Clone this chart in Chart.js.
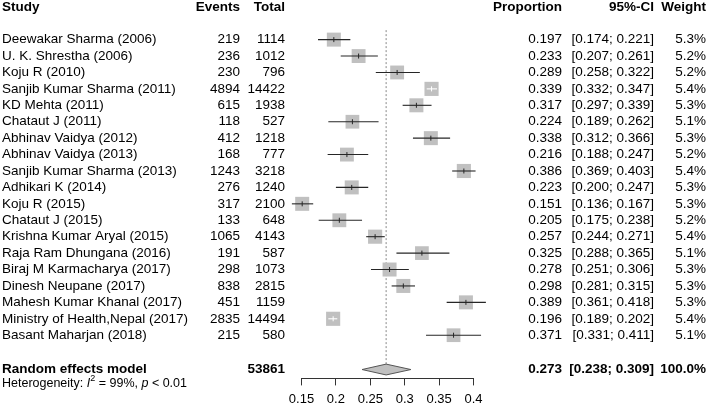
<!DOCTYPE html>
<html>
<head>
<meta charset="utf-8">
<script src="https://cdn.jsdelivr.net/npm/chart.js@4.4.1/dist/chart.umd.min.js"></script>
<style>
  html, body { margin: 0; padding: 0; background: #fff; }
  #wrap { width: 709px; height: 406px; }
</style>
</head>
<body>
<div id="wrap"><canvas id="forest" width="709" height="406"></canvas></div>
<script>
// study table
var studies = ["Deewakar Sharma (2006)", "U. K. Shrestha (2006)", "Koju R (2010)", "Sanjib Kumar Sharma (2011)",
  "KD Mehta (2011)", "Chataut J (2011)", "Abhinav Vaidya (2012)", "Abhinav Vaidya (2013)",
  "Sanjib Kumar Sharma (2013)", "Adhikari K (2014)", "Koju R (2015)", "Chataut J (2015)",
  "Krishna Kumar Aryal (2015)", "Raja Ram Dhungana (2016)", "Biraj M Karmacharya (2017)",
  "Dinesh Neupane (2017)", "Mahesh Kumar Khanal (2017)", "Ministry of Health,Nepal (2017)", "Basant Maharjan (2018)"];
var events = [219, 236, 230, 4894, 615, 118, 412, 168, 1243, 276, 317, 133, 1065, 191, 298, 838, 451, 2835, 215];
var totals = [1114, 1012, 796, 14422, 1938, 527, 1218, 777, 3218, 1240, 2100, 648, 4143, 587, 1073, 2815, 1159, 14494, 580];
var proportion = [0.197, 0.233, 0.289, 0.339, 0.317, 0.224, 0.338, 0.216, 0.386, 0.223, 0.151, 0.205, 0.257, 0.325, 0.278, 0.298, 0.389, 0.196, 0.371];
var ciLower = [0.174, 0.207, 0.258, 0.332, 0.297, 0.189, 0.312, 0.188, 0.369, 0.200, 0.136, 0.175, 0.244, 0.288, 0.251, 0.281, 0.361, 0.189, 0.331];
var ciUpper = [0.221, 0.261, 0.322, 0.347, 0.339, 0.262, 0.366, 0.247, 0.403, 0.247, 0.167, 0.238, 0.271, 0.365, 0.306, 0.315, 0.418, 0.202, 0.411];
var weights = [5.3, 5.2, 5.2, 5.4, 5.3, 5.1, 5.3, 5.2, 5.4, 5.3, 5.3, 5.2, 5.4, 5.1, 5.3, 5.3, 5.3, 5.4, 5.1];

// random effects summary
var pooledLabel = "Random effects model";
var pooledTotal = 53861;
var pooledEst = 0.273;
var pooledLower = 0.238;
var pooledUpper = 0.309;
var pooledWeight = 100.0;
var heterogeneityI2 = "99%";
var heterogeneityP = "< 0.01";

var xTicks = [0.15, 0.2, 0.25, 0.3, 0.35, 0.4];
var xTickLabels = ["0.15", "0.2", "0.25", "0.3", "0.35", "0.4"];

// row positions on the y scale (row units, 0 = first study)
var headerRow = -1.95;
var pooledRow = 20.09;
var hetRow = 20.95;

var FONT = '"Liberation Sans", Arial, Helvetica, sans-serif';
var SQUARE = '#c0c0c0';
var LINE = '#262626';
var baseSide = 14;   // px side of a 5.3% square

function sideFor(w) { return baseSide * Math.sqrt(w / 5.3); }

// CI drawn white when the whole interval sits inside its square
function ciColorAt(chart, i) {
  var xs = chart.scales.x;
  var w = xs.getPixelForValue(ciUpper[i]) - xs.getPixelForValue(ciLower[i]);
  return w < sideFor(weights[i]) ? '#ffffff' : LINE;
}

var datasets = [];

// estimate tick marks (on top)
datasets.push({
  type: 'scatter',
  order: 0,
  clip: false,
  data: proportion.map(function (p, i) { return { x: p, y: i }; }),
  pointStyle: 'line',
  rotation: 90,
  radius: 2.5,
  pointBorderWidth: 1,
  pointBorderColor: function (ctx) { return ciColorAt(ctx.chart, ctx.dataIndex); }
});

// confidence intervals
studies.forEach(function (s, i) {
  datasets.push({
    type: 'line',
    order: 1,
    clip: false,
    data: [{ x: ciLower[i], y: i }, { x: ciUpper[i], y: i }],
    borderColor: function (ctx) { return ciColorAt(ctx.chart, i); },
    borderWidth: 1.1,
    pointRadius: 0,
    fill: false
  });
});

// weight squares
datasets.push({
  type: 'scatter',
  order: 2,
  clip: false,
  data: proportion.map(function (p, i) { return { x: p, y: i }; }),
  pointStyle: 'rect',
  backgroundColor: SQUARE,
  borderWidth: 0,
  pointRadius: weights.map(function (w) { return sideFor(w) / (2 * Math.SQRT1_2); })
});

// pooled diamond
datasets.push({
  type: 'line',
  order: 2,
  clip: false,
  data: [
    { x: pooledLower, y: pooledRow },
    { x: pooledEst, y: pooledRow - 0.33 },
    { x: pooledUpper, y: pooledRow },
    { x: pooledEst, y: pooledRow + 0.33 },
    { x: pooledLower, y: pooledRow }
  ],
  borderColor: '#555555',
  borderWidth: 1,
  backgroundColor: SQUARE,
  fill: 'shape',
  pointRadius: 0,
  tension: 0
});

// dotted line at pooled estimate
datasets.push({
  type: 'line',
  order: 3,
  data: [{ x: pooledEst, y: -0.58 }, { x: pooledEst, y: pooledRow - 0.33 }],
  borderColor: '#8a8a8a',
  borderWidth: 1,
  borderDash: [2, 2],
  pointRadius: 0,
  fill: false
});

// table text around the plot
var tableText = {
  id: 'tableText',
  afterDraw: function (chart) {
    var ctx = chart.ctx;
    var ys = chart.scales.y;
    var reg = '13.5px ' + FONT;
    var bold = 'bold 13.5px ' + FONT;
    ctx.save();
    ctx.fillStyle = '#000';
    ctx.textBaseline = 'middle';

    function put(txt, x, r, align, font) {
      ctx.font = font;
      ctx.textAlign = align;
      ctx.fillText(txt, x, ys.getPixelForValue(r));
    }

    // headers
    put('Study', 2, headerRow, 'left', bold);
    put('Events', 240, headerRow, 'right', bold);
    put('Total', 285, headerRow, 'right', bold);
    put('Proportion', 562, headerRow, 'right', bold);
    put('95%-CI', 654, headerRow, 'right', bold);
    put('Weight', 706, headerRow, 'right', bold);

    studies.forEach(function (s, i) {
      put(s, 2, i, 'left', reg);
      put(String(events[i]), 240, i, 'right', reg);
      put(String(totals[i]), 285, i, 'right', reg);
      put(proportion[i].toFixed(3), 562, i, 'right', reg);
      put('[' + ciLower[i].toFixed(3) + '; ' + ciUpper[i].toFixed(3) + ']', 654, i, 'right', reg);
      put(weights[i].toFixed(1) + '%', 706, i, 'right', reg);
    });

    put(pooledLabel, 2, pooledRow, 'left', bold);
    put(String(pooledTotal), 285, pooledRow, 'right', bold);
    put(pooledEst.toFixed(3), 562, pooledRow, 'right', bold);
    put('[' + pooledLower.toFixed(3) + '; ' + pooledUpper.toFixed(3) + ']', 654, pooledRow, 'right', bold);
    put(pooledWeight.toFixed(1) + '%', 706, pooledRow, 'right', bold);

    // heterogeneity line with italic I, superscript 2 and italic p
    var y = ys.getPixelForValue(hetRow);
    var x = 2;
    var parts = [
      ['Heterogeneity: ', '12.5px ' + FONT, 0],
      ['I', 'italic 12.5px ' + FONT, 0],
      ['2', '9px ' + FONT, -5],
      [' = ' + heterogeneityI2 + ', ', '12.5px ' + FONT, 0],
      ['p', 'italic 12.5px ' + FONT, 0],
      [' ' + heterogeneityP, '12.5px ' + FONT, 0]
    ];
    ctx.textAlign = 'left';
    parts.forEach(function (p) {
      ctx.font = p[1];
      ctx.fillText(p[0], x, y + p[2]);
      x += ctx.measureText(p[0]).width;
    });
    ctx.restore();
  }
};

new Chart(document.getElementById('forest'), {
  data: { datasets: datasets },
  options: {
    responsive: false,
    animation: false,
    events: [],
    layout: { padding: { left: 301.5, right: 235.5, top: 23.2, bottom: -7 } },
    plugins: { legend: { display: false }, tooltip: { enabled: false } },
    scales: {
      x: {
        type: 'linear',
        min: 0.15,
        max: 0.4,
        afterBuildTicks: function (axis) {
          axis.ticks = xTicks.map(function (v) { return { value: v }; });
        },
        ticks: {
          autoSkip: false,
          maxRotation: 0,
          padding: 6,
          color: '#000',
          font: { family: FONT, size: 13 },
          callback: function (v) {
            var k = xTicks.indexOf(v);
            return k >= 0 ? xTickLabels[k] : '';
          }
        },
        grid: { drawOnChartArea: false, drawTicks: true, tickLength: 7, color: '#333', lineWidth: 1 },
        border: { display: true, color: '#333', width: 1 }
      },
      y: {
        type: 'linear',
        display: false,
        reverse: true,
        min: -1,
        max: 20.63
      }
    }
  },
  plugins: [tableText]
});
</script>
</body>
</html>
